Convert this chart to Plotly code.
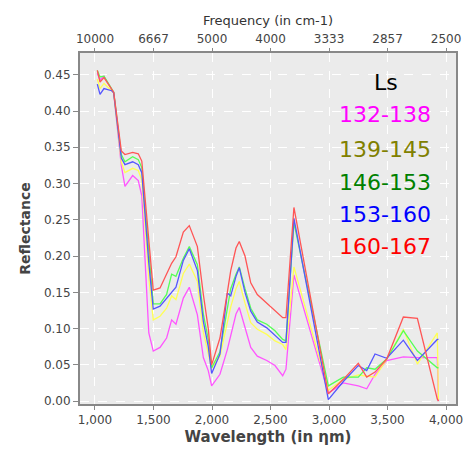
import plotly.graph_objects as go

wavelength = [1020, 1043, 1077, 1143, 1160, 1225, 1256, 1322, 1370, 1400, 1460, 1498,
              1556, 1612, 1655, 1692, 1755, 1806, 1875, 1926, 1968, 1997, 2068, 2131,
              2160, 2205, 2233, 2282, 2331, 2387, 2468, 2538, 2604, 2632, 2700, 2994,
              3122, 3250, 3322, 3393, 3493, 3635, 3755, 3925, 3935]

ls_132_138 = [0.452, 0.443, 0.448, 0.430, 0.425, 0.325, 0.296, 0.311, 0.304, 0.283, 0.094, 0.069,
              0.074, 0.087, 0.112, 0.106, 0.142, 0.157, 0.119, 0.060, 0.042, 0.021, 0.037, 0.071,
              0.090, 0.120, 0.129, 0.101, 0.074, 0.062, 0.056, 0.049, 0.035, 0.044, 0.174, 0.011,
              0.025, 0.021, 0.017, 0.037, 0.056, 0.061, 0.060, 0.060, 0.000]
ls_139_145 = [0.444, 0.431, 0.438, 0.428, 0.425, 0.330, 0.315, 0.321, 0.318, 0.305, 0.170, 0.112,
              0.117, 0.128, 0.145, 0.140, 0.176, 0.189, 0.165, 0.095, 0.065, 0.045, 0.062, 0.110,
              0.130, 0.155, 0.165, 0.135, 0.108, 0.099, 0.092, 0.083, 0.078, 0.071, 0.185, 0.015,
              0.030, 0.036, 0.035, 0.033, 0.058, 0.099, 0.051, 0.094, 0.002]
ls_146_153 = [0.456, 0.447, 0.448, 0.430, 0.426, 0.340, 0.330, 0.337, 0.333, 0.322, 0.200, 0.134,
              0.134, 0.147, 0.175, 0.172, 0.197, 0.213, 0.188, 0.120, 0.085, 0.046, 0.068, 0.130,
              0.155, 0.175, 0.185, 0.155, 0.128, 0.112, 0.106, 0.097, 0.085, 0.083, 0.246, 0.021,
              0.033, 0.033, 0.046, 0.044, 0.058, 0.097, 0.069, 0.046, 0.046]
ls_153_160 = [0.437, 0.423, 0.431, 0.428, 0.425, 0.335, 0.326, 0.330, 0.326, 0.315, 0.190, 0.127,
              0.131, 0.142, 0.150, 0.157, 0.194, 0.210, 0.180, 0.110, 0.075, 0.038, 0.065, 0.149,
              0.145, 0.172, 0.184, 0.150, 0.124, 0.109, 0.101, 0.090, 0.081, 0.081, 0.252, 0.002,
              0.027, 0.049, 0.042, 0.065, 0.059, 0.084, 0.056, 0.085, 0.085]
ls_160_167 = [0.456, 0.440, 0.446, 0.430, 0.426, 0.345, 0.340, 0.343, 0.341, 0.331, 0.220, 0.153,
              0.156, 0.174, 0.190, 0.199, 0.233, 0.242, 0.213, 0.147, 0.100, 0.050, 0.087, 0.150,
              0.180, 0.211, 0.220, 0.200, 0.163, 0.147, 0.135, 0.124, 0.115, 0.115, 0.267, 0.010,
              0.030, 0.052, 0.033, 0.040, 0.058, 0.116, 0.114, 0.003, 0.000]

series_names = ["132-138", "139-145", "146-153", "153-160", "160-167"]
series_values = [ls_132_138, ls_139_145, ls_146_153, ls_153_160, ls_160_167]
line_colors = ["#ff55ff", "#ffff55", "#55ff55", "#5555ff", "#ff5555"]
label_colors = ["#ff00ff", "#808000", "#008000", "#0000ff", "#ff0000"]

x_ticks = [1000, 1500, 2000, 2500, 3000, 3500, 4000]
freq_labels = ["10000", "6667", "5000", "4000", "3333", "2857", "2500"]
y_ticks = [0.0, 0.05, 0.10, 0.15, 0.20, 0.25, 0.30, 0.35, 0.40, 0.45]

x_range = [872, 4085]
y_range = [-0.004, 0.480]

fig = go.Figure()
for name, vals, col in zip(series_names, series_values, line_colors):
    fig.add_trace(go.Scatter(x=wavelength, y=vals, mode="lines", name=name,
                             line=dict(color=col, width=1.3), showlegend=False))

font_family = "DejaVu Sans, Verdana, sans-serif"
annotations = [dict(text="Ls", x=0.815, y=0.915, xref="paper", yref="paper",
                    showarrow=False, font=dict(size=22, color="#000000", family=font_family),
                    xanchor="center", yanchor="middle")]
label_y = [0.824, 0.725, 0.632, 0.541, 0.448]
for name, col, yy in zip(series_names, label_colors, label_y):
    annotations.append(dict(text=name, x=0.81, y=yy, xref="paper", yref="paper",
                            showarrow=False, font=dict(size=22, color=col, family=font_family),
                            xanchor="center", yanchor="middle"))

fig.update_layout(
    width=465, height=450,
    margin=dict(l=80, r=9, t=53, b=46),
    paper_bgcolor="white", plot_bgcolor="#ebebeb",
    font=dict(family=font_family, color="#444444", size=12),
    xaxis=dict(range=x_range, tickvals=x_ticks, tickformat=",d", automargin=False,
               showgrid=True, gridcolor="white", griddash="dash", gridwidth=1,
               zeroline=False, showline=True, linecolor="#888888", linewidth=2, mirror=True,
               ticks="outside", ticklen=4, tickcolor="#888888",
               tickfont=dict(size=12, color="#444444"),
               title=dict(text="<b>Wavelength (in ηm)</b>", font=dict(size=15, color="#444444"),
                          standoff=5)),
    xaxis2=dict(range=x_range, tickvals=x_ticks, ticktext=freq_labels, automargin=False,
                overlaying="x", side="top", showgrid=False, zeroline=False,
                ticks="outside", ticklen=4, tickcolor="#888888",
                tickfont=dict(size=12, color="#444444"),
                title=dict(text="Frequency (in cm-1)", font=dict(size=13, color="#333333"),
                           standoff=3)),
    yaxis=dict(range=y_range, tickvals=y_ticks, tickformat=".2f", automargin=False,
               showgrid=True, gridcolor="white", griddash="dash", gridwidth=1,
               zeroline=False, showline=True, linecolor="#888888", linewidth=2, mirror=True,
               ticks="outside", ticklen=5, tickcolor="#888888",
               tickfont=dict(size=12, color="#444444"),
               title=dict(text="<b>Reflectance</b>", font=dict(size=14, color="#444444"),
                          standoff=10)),
    annotations=annotations,
)
fig.add_trace(go.Scatter(x=[x_range[0]], y=[None], xaxis="x2", showlegend=False,
                         hoverinfo="skip", mode="markers", marker=dict(opacity=0)))

fig.write_html("out.html", config={"displayModeBar": False},
               post_script="document.body.style.margin='0';document.body.style.overflow='hidden';")
